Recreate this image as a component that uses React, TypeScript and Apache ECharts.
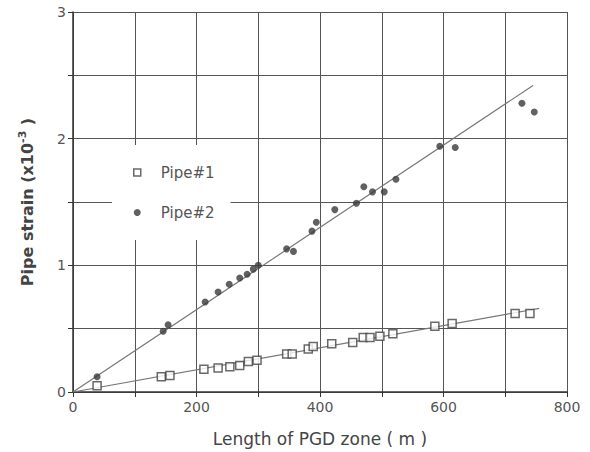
import React, { useEffect, useRef } from "react";
import * as echarts from "echarts";

const xTickLabels = [0, 200, 400, 600, 800];
const yTickLabels = [0, 1, 2, 3];

const pipe1X = [39, 143, 157, 212, 235, 254, 270, 284, 298, 346, 355, 381, 389, 419, 453, 470, 481, 497, 518, 586, 614, 716, 740];
const pipe1Y = [0.05, 0.12, 0.13, 0.18, 0.19, 0.2, 0.21, 0.24, 0.25, 0.3, 0.3, 0.34, 0.36, 0.38, 0.39, 0.43, 0.43, 0.44, 0.46, 0.52, 0.54, 0.62, 0.62];

const pipe2X = [39, 146, 154, 214, 235, 253, 270, 282, 292, 300, 346, 357, 387, 394, 424, 459, 471, 485, 504, 523, 594, 619, 727, 747];
const pipe2Y = [0.12, 0.48, 0.53, 0.71, 0.79, 0.85, 0.9, 0.93, 0.97, 1.0, 1.13, 1.11, 1.27, 1.34, 1.44, 1.49, 1.62, 1.58, 1.58, 1.68, 1.94, 1.93, 2.28, 2.21];

const fit1X = [0, 755];
const fit1Y = [0, 0.66];
const fit2X = [0, 745];
const fit2Y = [0, 2.42];

const zip = (xs: number[], ys: number[]) => xs.map((x, i) => [x, ys[i]]);

export default function App() {
  const ref = useRef<HTMLDivElement>(null);
  useEffect(() => {
    document.body.style.margin = "0";
    const chart = echarts.init(ref.current!, null, { renderer: "svg" });
    const font = "DejaVu Sans";
    chart.setOption({
      animation: false,
      backgroundColor: "#ffffff",
      grid: { left: 73, right: 23, top: 12, bottom: 59, containLabel: false },
      legend: {
        orient: "vertical",
        left: 112,
        top: 145,
        width: 121,
        padding: [20, 16, 20, 21],
        backgroundColor: "#ffffff",
        itemWidth: 7,
        itemHeight: 7,
        itemGap: 25,
        data: [
          { name: "Pipe#1", itemStyle: { borderWidth: 1.5 } },
          { name: "Pipe#2" },
        ],
        textStyle: { fontFamily: font, fontSize: 15, color: "#555555", padding: [0, 0, 0, 15] },
      },
      xAxis: {
        type: "value",
        min: 0,
        max: 800,
        interval: 100,
        name: "Length of PGD zone ( m )",
        nameLocation: "middle",
        nameGap: 38,
        nameTextStyle: { fontFamily: font, fontSize: 17, color: "#444444" },
        axisLine: { show: true, lineStyle: { color: "#333333", width: 1.5 } },
        axisTick: { show: true, length: 5, lineStyle: { color: "#333333" } },
        splitLine: { show: true, lineStyle: { color: "#555555", width: 1 } },
        axisLabel: {
          fontFamily: font,
          fontSize: 14,
          color: "#555555",
          margin: 8,
          formatter: (v: number) => (xTickLabels.includes(v) ? String(v) : ""),
        },
      },
      yAxis: {
        type: "value",
        min: 0,
        max: 3,
        interval: 0.5,
        name: "{b|Pipe strain (x10}{s|-3}{b| )}",
        nameLocation: "middle",
        nameGap: 36,
        nameTextStyle: {
          rich: {
            b: { fontFamily: font, fontSize: 16, fontWeight: "bold", color: "#444444" },
            s: { fontFamily: font, fontSize: 11, fontWeight: "bold", color: "#444444", verticalAlign: "top", padding: [0, 0, 9, 0] },
          },
        },
        axisLine: { show: true, lineStyle: { color: "#333333", width: 1.5 } },
        axisTick: { show: true, length: 5, lineStyle: { color: "#333333" } },
        splitLine: { show: true, lineStyle: { color: "#555555", width: 1 } },
        axisLabel: {
          fontFamily: font,
          fontSize: 14,
          color: "#555555",
          margin: 7,
          formatter: (v: number) => (yTickLabels.includes(v) ? String(v) : ""),
        },
      },
      series: [
        {
          name: "fit1",
          type: "line",
          data: zip(fit1X, fit1Y),
          symbol: "none",
          lineStyle: { color: "#777777", width: 1.2 },
          z: 2,
        },
        {
          name: "fit2",
          type: "line",
          data: zip(fit2X, fit2Y),
          symbol: "none",
          lineStyle: { color: "#777777", width: 1.2 },
          z: 2,
        },
        {
          name: "Pipe#1",
          type: "scatter",
          data: zip(pipe1X, pipe1Y),
          symbol: "rect",
          symbolSize: 8,
          itemStyle: { color: "#ffffff", borderColor: "#444444", borderWidth: 1.5 },
          z: 3,
        },
        {
          name: "Pipe#2",
          type: "scatter",
          data: zip(pipe2X, pipe2Y),
          symbol: "circle",
          symbolSize: 7,
          itemStyle: { color: "#3a3a3a" },
          z: 3,
        },
      ],
    });
    return () => chart.dispose();
  }, []);
  return <div ref={ref} style={{ width: 590, height: 452 }} />;
}
